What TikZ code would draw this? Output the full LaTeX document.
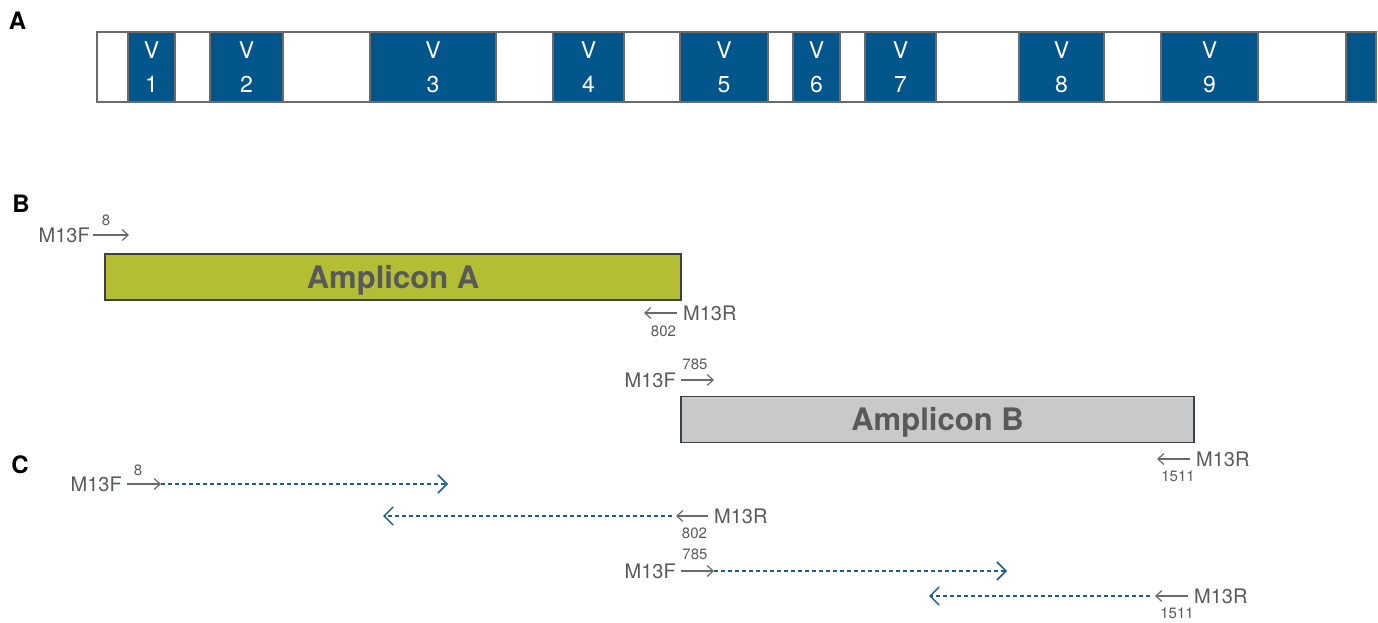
\documentclass[tikz,border=0pt]{standalone}
\usepackage{fontspec}
\setmainfont{TeX Gyre Heros}
\usetikzlibrary{arrows.meta}
\definecolor{vblue}{HTML}{03568B}
\definecolor{dblue}{HTML}{1A5E94}
\definecolor{txtgray}{HTML}{58595B}
\definecolor{argray}{HTML}{6A6A6C}
\definecolor{ampA}{HTML}{B3BE35}
\definecolor{ampB}{HTML}{C8C9CB}
\definecolor{edgegray}{HTML}{6B6B6B}
\tikzset{
  panel/.style={font=\fontsize{24}{28}\selectfont\bfseries, text=black, inner sep=0pt},
  strip/.style={draw=edgegray, line width=1.5pt, fill=white, inner sep=0pt, minimum height=70pt},
  vseg/.style={draw=edgegray, line width=1.2pt, fill=vblue, text=white, inner sep=0pt,
    minimum height=70pt, align=center, font=\fontsize{23}{34}\selectfont},
  amp/.style={draw=black!75, line width=1.3pt, inner sep=0pt, minimum height=46pt,
    text height=22pt, text depth=0pt,
    text=txtgray, font=\fontsize{31}{34}\selectfont\bfseries},
  primer/.style={text=txtgray, inner sep=0pt, font=\fontsize{20}{24}\selectfont},
  posnum/.style={text=txtgray, inner sep=0pt, font=\fontsize{15}{18}\selectfont},
  parrow/.style={draw=argray, line width=1.2pt, -{Straight Barb[length=6pt,width=11pt]}},
  darrow/.style={draw=dblue, line width=1.5pt, dash pattern=on 4pt off 3pt,
    -{Straight Barb[length=9pt,width=18pt,line width=1.5pt]}},
}
\begin{document}
\begin{tikzpicture}[x=1pt,y=-1pt]
\useasboundingbox (0,0) rectangle (1378,623);

% ---------- Panel A ----------
\node[panel] (lA) at (17.5,20.5) {A};
\node[strip, minimum width=1279pt] (strip) at (736.5,67) {};
\node[vseg, minimum width=47pt]  (v1) at (151.5,67) {V\\1};
\node[vseg, minimum width=73pt]  (v2) at (246.5,67) {V\\2};
\node[vseg, minimum width=126pt] (v3) at (433,67)   {V\\3};
\node[vseg, minimum width=71pt]  (v4) at (588.5,67) {V\\4};
\node[vseg, minimum width=88pt]  (v5) at (724,67)   {V\\5};
\node[vseg, minimum width=47pt]  (v6) at (816.5,67) {V\\6};
\node[vseg, minimum width=71pt]  (v7) at (900.5,67) {V\\7};
\node[vseg, minimum width=85pt]  (v8) at (1061.5,67) {V\\8};
\node[vseg, minimum width=97pt]  (v9) at (1209.5,67) {V\\9};
\node[vseg, minimum width=30pt]  (vend) at (1361,67) {};

% ---------- Panel B ----------
\node[panel] (lB) at (21,204) {B};

\node[primer, anchor=east] (bF1) at (90,235) {M13F};
\coordinate (bF1s) at (93,235);
\coordinate (bF1e) at (129,235);
\draw[parrow] (bF1s) -- (bF1e);
\node[posnum] (bF1p) at (106,220) {8};

\node[amp, fill=ampA, minimum width=576pt] (ampA) at (393,277) {Amplicon A};

\coordinate (bR1s) at (677,313);
\coordinate (bR1e) at (644,313);
\draw[parrow] (bR1s) -- (bR1e);
\node[primer, anchor=west] (bR1) at (683,313) {M13R};
\node[posnum] (bR1p) at (663.5,331) {802};

\node[primer, anchor=east] (bF2) at (676,380) {M13F};
\coordinate (bF2s) at (681,380);
\coordinate (bF2e) at (714,380);
\draw[parrow] (bF2s) -- (bF2e);
\node[posnum] (bF2p) at (695,364) {785};

\node[amp, fill=ampB, minimum width=513pt] (ampB) at (937.5,419.5) {Amplicon B};

\coordinate (bR2s) at (1190,459);
\coordinate (bR2e) at (1157,459);
\draw[parrow] (bR2s) -- (bR2e);
\node[primer, anchor=west] (bR2) at (1196,459) {M13R};
\node[posnum] (bR2p) at (1178,476) {1511};

% ---------- Panel C ----------
\node[panel] (lC) at (20,465) {C};

% row 1
\node[primer, anchor=east] (cF1) at (122,484) {M13F};
\coordinate (cF1s) at (127,484);
\coordinate (cF1e) at (161,484);
\draw[parrow] (cF1s) -- (cF1e);
\node[posnum] (cF1p) at (138,470) {8};
\coordinate (cD1e) at (448,484);
\draw[darrow] (cF1e) -- (cD1e);

% row 2
\coordinate (cR1s) at (708,516);
\coordinate (cR1e) at (676,516);
\draw[parrow] (cR1s) -- (cR1e);
\node[primer, anchor=west] (cR1) at (714,516) {M13R};
\node[posnum] (cR1p) at (694.5,533) {802};
\coordinate (cD2s) at (672,516);
\coordinate (cD2e) at (383,516);
\draw[darrow] (cD2s) -- (cD2e);

% row 3
\node[primer, anchor=east] (cF2) at (676,571) {M13F};
\coordinate (cF2s) at (681,571);
\coordinate (cF2e) at (714,571);
\draw[parrow] (cF2s) -- (cF2e);
\node[posnum] (cF2p) at (695,554) {785};
\coordinate (cD3e) at (1007,571);
\draw[darrow] (cF2e) -- (cD3e);

% row 4
\coordinate (cR2s) at (1188,596);
\coordinate (cR2e) at (1155,596);
\draw[parrow] (cR2s) -- (cR2e);
\node[primer, anchor=west] (cR2) at (1194,596) {M13R};
\node[posnum] (cR2p) at (1177,613) {1511};
\coordinate (cD4s) at (1150,596);
\coordinate (cD4e) at (929,596);
\draw[darrow] (cD4s) -- (cD4e);
\end{tikzpicture}
\end{document}
